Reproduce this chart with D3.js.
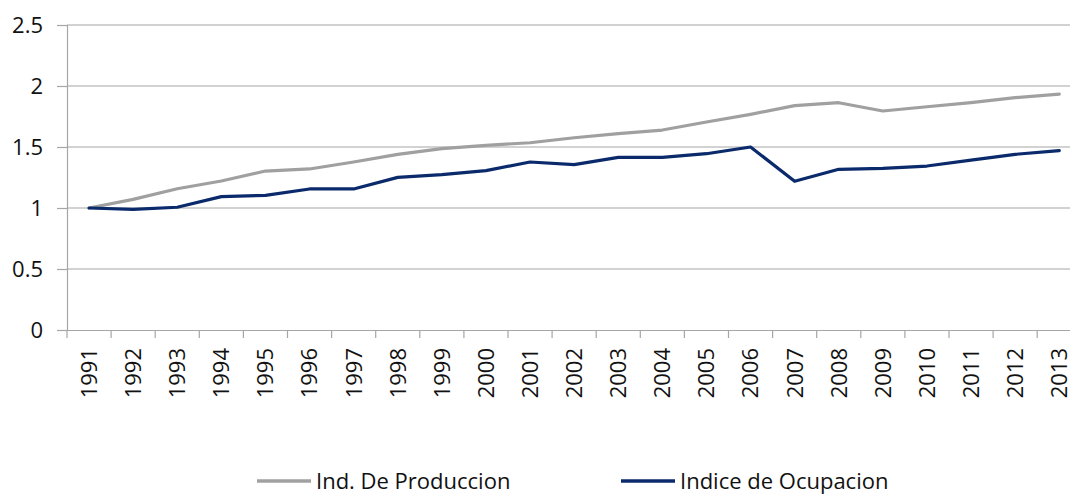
<!DOCTYPE html>
<html><head><meta charset="utf-8">
<script src="https://cdn.jsdelivr.net/npm/d3@7"></script>
<style>body{margin:0;background:#fff}svg{display:block}text{font-family:"Open Sans",sans-serif;fill:#111}</style>
</head><body><svg id="c" width="1070" height="495"></svg>
<script>
const years = ["1991","1992","1993","1994","1995","1996","1997","1998","1999","2000","2001","2002","2003","2004","2005","2006","2007","2008","2009","2010","2011","2012","2013"];
const produccion = [1.0,1.071,1.158,1.221,1.303,1.32,1.377,1.44,1.486,1.514,1.535,1.576,1.609,1.639,1.705,1.768,1.839,1.863,1.795,1.83,1.863,1.904,1.934];
const ocupacion = [1.0,0.989,1.006,1.093,1.104,1.156,1.156,1.251,1.273,1.306,1.377,1.355,1.415,1.415,1.445,1.5,1.219,1.317,1.325,1.344,1.393,1.44,1.47];
const yTicks = [0,0.5,1,1.5,2,2.5];
const seriesNames = ["Ind. De Produccion","Indice de Ocupacion"];
const colors = ["#a0a0a0","#0b2a6b"];

(function(){
const svg = d3.select("#c");
const mLeft = 67, mTop = 25, mBottom = 330, band = 44.1;
const x = d3.scaleBand().domain(years).range([mLeft, mLeft + band*years.length]).paddingInner(0).paddingOuter(0);
const y = d3.scaleLinear().domain([0,2.5]).range([mBottom, mTop]);

svg.append("g").selectAll("line").data(yTicks.filter(d=>d>0)).join("line")
  .attr("x1", mLeft).attr("x2", 1070).attr("y1", d=>y(d)).attr("y2", d=>y(d))
  .attr("stroke","#a6a6a6").attr("stroke-width",1.2);

const ya = svg.append("g").attr("transform",`translate(${mLeft},0)`)
  .call(d3.axisLeft(y).tickValues(yTicks).tickSize(10).tickPadding(14).tickFormat(d=>String(d)));
ya.select(".domain").attr("stroke","#a6a6a6").attr("stroke-width",1.2);
ya.selectAll(".tick line").attr("stroke","#a6a6a6").attr("stroke-width",1.2);
ya.selectAll(".tick text").style("font-size","22px").attr("dy","0.36em");

const xa = svg.append("g").attr("transform",`translate(0,${mBottom})`)
  .call(d3.axisBottom(x).tickSize(0).tickPadding(0));
xa.select(".domain").attr("stroke","#a6a6a6").attr("stroke-width",1.2);
xa.selectAll(".tick text").style("font-size","22px")
  .attr("transform","rotate(-90)").attr("text-anchor","end").attr("x",-18).attr("y",0).attr("dy","0.36em");
const bounds = years.map(d=>x(d)).concat([x(years[years.length-1])+band]);
svg.append("g").selectAll("line").data(bounds).join("line")
  .attr("x1",d=>d).attr("x2",d=>d).attr("y1",mBottom).attr("y2",mBottom+8)
  .attr("stroke","#a6a6a6").attr("stroke-width",1.2);

const line = d3.line().x((d,i)=>x(years[i])+band/2).y(d=>y(d));
[produccion, ocupacion].forEach((s,k)=>{
  svg.append("path").datum(s).attr("d",line).attr("fill","none")
    .attr("stroke",colors[k]).attr("stroke-width",3.2).attr("stroke-linejoin","round").attr("stroke-linecap","round");
});

const lg = svg.append("g");
const legX = [257, 621];
seriesNames.forEach((n,k)=>{
  lg.append("line").attr("x1",legX[k]).attr("x2",legX[k]+54).attr("y1",481).attr("y2",481)
    .attr("stroke",colors[k]).attr("stroke-width",3.4);
  lg.append("text").attr("x",legX[k]+59).attr("y",481).attr("dy","0.36em").style("font-size","22px").text(n);
});
})();
</script></body></html>
